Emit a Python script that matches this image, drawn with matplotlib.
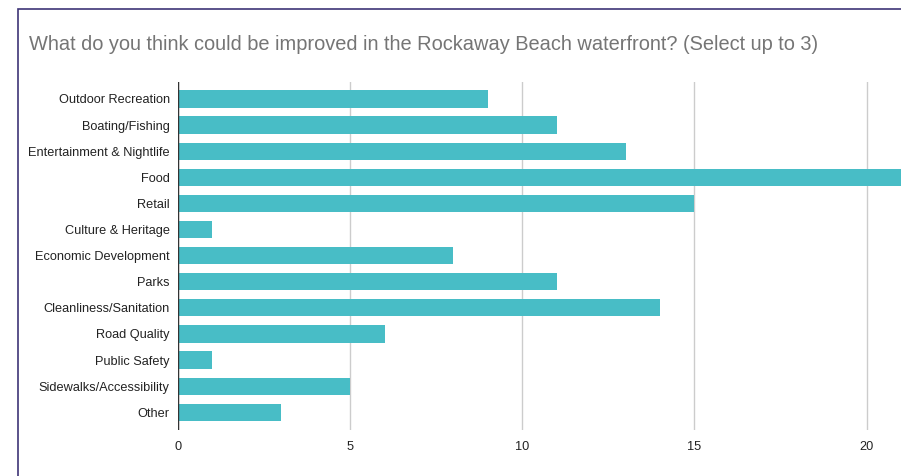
import matplotlib.pyplot as plt
from matplotlib.patches import Rectangle

plt.rcParams['font.family'] = ['Liberation Sans', 'DejaVu Sans']

categories = [
    "Outdoor Recreation", "Boating/Fishing", "Entertainment & Nightlife",
    "Food", "Retail", "Culture & Heritage", "Economic Development",
    "Parks", "Cleanliness/Sanitation", "Road Quality", "Public Safety",
    "Sidewalks/Accessibility", "Other",
]
counts = [9, 11, 13, 21, 15, 1, 8, 11, 14, 6, 1, 5, 3]
xticks = [0, 5, 10, 15, 20]

fig = plt.figure(figsize=(9.01, 4.76), dpi=100)

# outer card border (runs off the right and bottom edges)
fig.patches.append(Rectangle((18 / 901, -0.1), 1.2, 1 - 9 / 476 + 0.1,
                             transform=fig.transFigure, fill=False,
                             edgecolor="#3e3577", linewidth=1.2))

fig.text(29 / 901, 1 - 45 / 476, "What do you think could be improved in the Rockaway Beach waterfront? (Select up to 3)",
         fontsize=14.4, color="#757575", va="center", ha="left")

ax = fig.add_axes([178 / 901, 1 - 430 / 476, 1 - 178 / 901, (430 - 82) / 476])
pos = list(range(len(categories)))
ax.barh(pos, counts, height=0.66, color="#48bdc6", zorder=3)

ax.set_xlim(0, 21)
ax.set_ylim(12.68, -0.65)
ax.set_xticks(xticks)
ax.set_yticks(pos)
ax.set_yticklabels(categories)
ax.tick_params(axis="both", length=0, labelsize=9.2, colors="#222222")
ax.tick_params(axis="y", pad=6)
ax.tick_params(axis="x", pad=8)
ax.grid(axis="x", color="#cccccc", linewidth=1, zorder=0)
for s in ax.spines.values():
    s.set_visible(False)
ax.axvline(0, color="#333333", linewidth=1, zorder=4)

plt.savefig("out.png", dpi=100)
